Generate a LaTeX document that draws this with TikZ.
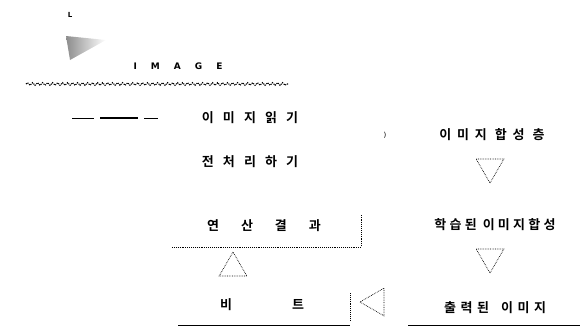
\documentclass[tikz,border=0pt]{standalone}
\usepackage{fontspec}
\newfontfamily\krA{Noto Sans CJK KR}[BoldFont={Noto Sans CJK KR Bold}, LetterSpace=70]
\newfontfamily\krB{Noto Sans CJK KR}[BoldFont={Noto Sans CJK KR Bold}, LetterSpace=45]
\newfontfamily\krC{Noto Sans CJK KR}[BoldFont={Noto Sans CJK KR Bold}, LetterSpace=25]
\newfontfamily\krD{Noto Sans CJK KR}[BoldFont={Noto Sans CJK KR Bold}, LetterSpace=35]
\newfontfamily\krE{Noto Sans CJK KR}[BoldFont={Noto Sans CJK KR Bold}]
\setmainfont{DejaVu Sans}
\usetikzlibrary{shapes.geometric,decorations.pathmorphing}
\tikzset{
  lbl/.style={font=\krA\fontsize{13}{15}\selectfont\bfseries, inner sep=1pt},
  plain/.style={font=\krE\fontsize{13}{15}\selectfont\bfseries, inner sep=1pt},
  tri/.style={regular polygon, regular polygon sides=3, draw, densely dotted, line width=0.7pt, minimum size=32pt, inner sep=0pt},
  rule/.style={draw, line width=0.7pt},
  dotrule/.style={draw, densely dotted, line width=0.9pt}
}
\begin{document}
\begin{tikzpicture}[x=1pt,y=-1pt]
\useasboundingbox (0,0) rectangle (586,335);
% image icon
\node[font=\fontsize{7}{8}\selectfont\bfseries, inner sep=0pt] (ltr) at (70,15) {L};
\shade[left color=gray!90, right color=white] (66,36) -- (106,40) -- (70,60) -- cycle;
\node[font=\fontsize{9}{10}\selectfont\bfseries, inner sep=1pt] (img) at (178,66) {I\hspace{14pt}M\hspace{14pt}A\hspace{14pt}G\hspace{14pt}E};
% wavy header line
\draw[densely dotted, line width=1.1pt, decorate, decoration={snake, amplitude=1.3pt, segment length=5pt}] (26,84) -- (288,84);
\node[font=\fontsize{6}{7}\selectfont, inner sep=0pt] (small) at (115,118) {\rule{22pt}{1.5pt}\quad\rule{38pt}{2.5pt}\quad\rule{14pt}{1.5pt}};
% left column
\node[lbl] (read) at (250,118) {이미지읽기};
\node[lbl] (pre) at (250,162) {전처리하기};
\node[plain] (calc) at (264,226) {연\hspace{22pt}산\hspace{22pt}결\hspace{22pt}과};
\draw[dotrule] (172,247) -- (361,247) -- (361,214);
\node[tri] (up) at (233,268) {};
\node[plain] (bit) at (262,305) {비\hspace{60pt}트};
\draw[rule] (178,325) -- (350,325);
\draw[dotrule] (350,293) -- (350,320);
\node[tri, shape border rotate=90] (left) at (376,302) {};
% right column
\node[font=\fontsize{7}{8}\selectfont, inner sep=0pt] (par) at (385,135) {)};
\node[font=\krB\fontsize{13}{15}\selectfont\bfseries, inner sep=1pt] (synth) at (492,135) {\mbox{이미지}\hspace{8pt}\mbox{합성}\hspace{8pt}\mbox{층}};
\node[tri, shape border rotate=180] (d1) at (490,167) {};
\node[font=\krC\fontsize{13}{15}\selectfont\bfseries, inner sep=1pt] (learn) at (495,225) {\mbox{학습된}\hspace{6pt}\mbox{이미지합성}};
\node[tri, shape border rotate=180] (d2) at (490,257) {};
\node[font=\krD\fontsize{13}{15}\selectfont\bfseries, inner sep=1pt] (out) at (495,308) {\mbox{출력된}\hspace{12pt}\mbox{이미지}};
\draw[rule] (408,325) -- (580,325);
\end{tikzpicture}
\end{document}
